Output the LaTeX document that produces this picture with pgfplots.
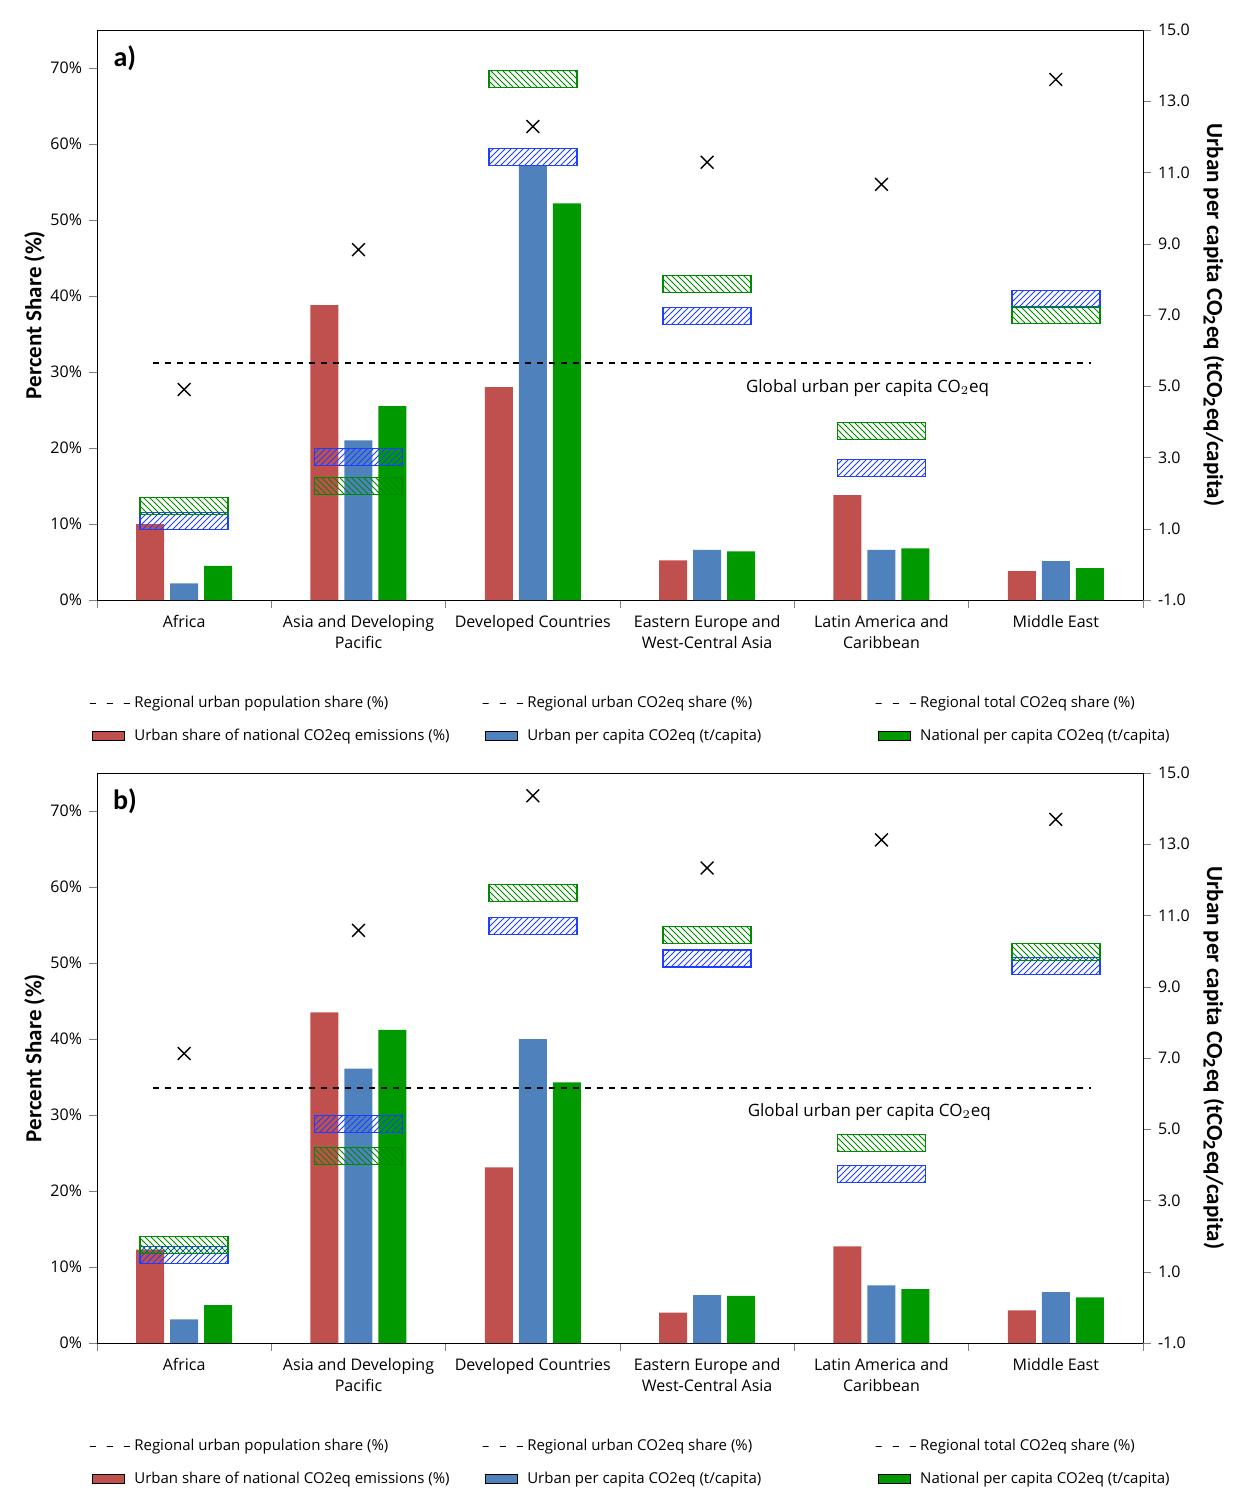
\documentclass[border=0pt]{standalone}
\usepackage{pgfplots}
\pgfplotsset{compat=1.18}
\usetikzlibrary{patterns}
\usepackage{fontspec}
\setmainfont{Open Sans}
\newfontfamily\lblfont{Carlito}
\definecolor{cred}{HTML}{C0504D}
\definecolor{cblue}{HTML}{4F81BD}
\definecolor{cgreen}{HTML}{009A00}
\definecolor{hblue}{HTML}{1F3FFF}
\definecolor{hgreen}{HTML}{008A00}
\pgfdeclareplotmark{hboxb}{\pgfsetstrokecolor{hblue}\pgfsetlinewidth{0.8pt}\pgfsetfillpattern{north east lines}{hblue}\pgfpathrectangle{\pgfpoint{-22pt}{-4.25pt}}{\pgfpoint{44pt}{8.5pt}}\pgfusepathqfillstroke}
\pgfdeclareplotmark{hboxg}{\pgfsetstrokecolor{hgreen}\pgfsetlinewidth{0.8pt}\pgfsetfillpattern{north west lines}{hgreen}\pgfpathrectangle{\pgfpoint{-22pt}{-4.25pt}}{\pgfpoint{44pt}{8.5pt}}\pgfusepathqfillstroke}
\pgfplotsset{
 base/.style={scale only axis, width=523pt, height=285pt, xmin=-0.5, xmax=5.5,
   /pgf/number format/assume math mode=true, tick label style={font=\fontsize{8}{9}\selectfont}},
 leftax/.style={base, ymin=0, ymax=75, ytick={0,10,...,70},
   yticklabel={\pgfmathprintnumber{\tick}\%}, ytick pos=left, tick align=outside,
   xtick={0,...,5}, xticklabels={Africa,Asia and Developing\\Pacific,Developed Countries,Eastern Europe and\\West-Central Asia,Latin America and\\Caribbean,Middle East},
   xticklabel style={align=center, font=\fontsize{8}{10.5}\selectfont},
   major x tick style={draw=none}, minor xtick={-0.5,0.5,...,5.5}, xtick pos=bottom,
   minor tick length=4pt, major tick length=4pt,
   ylabel={\lblfont\bfseries\fontsize{11.5}{12}\selectfont Percent Share (\%)}, ylabel style={yshift=-4pt},
   legend style={at={(rel axis cs:0,0)}, anchor=north west, xshift=-7pt, yshift=-44pt, draw=none, fill=none,
     legend columns=3, font=\fontsize{7.5}{9}\selectfont, row sep=5pt, legend cell align=left},
   },
 rightax/.style={base, ymin=-1, ymax=15, ytick={-1,1,...,15}, axis y line*=right, axis x line=none,
   yticklabel style={/pgf/number format/.cd, fixed, fixed zerofill, precision=1}, tick align=outside, major tick length=4pt,
   ylabel={\lblfont\bfseries\fontsize{11.5}{12}\selectfont Urban per capita CO$_\mathbf{2}$eq (tCO$_\mathbf{2}$eq/capita)},
   ylabel style={rotate=180}},
 barr/.style={ybar, bar width=14pt, bar shift=-17pt, fill=cred, draw=none},
 barb/.style={ybar, bar width=14pt, bar shift=0pt, fill=cblue, draw=none},
 barg/.style={ybar, bar width=14pt, bar shift=17pt, fill=cgreen, draw=none},
 crs/.style={only marks, mark=x, mark size=4.5pt, black, mark options={line width=0.7pt}},
 rectimg/.style={legend image code/.code={\fill[##1] (0pt,-2.25pt) rectangle (16pt,2.25pt);}},
}
\newcommand\legs{%
 \addlegendimage{rectimg, fill=cred}\addlegendentry{\makebox[172pt][l]{Regional urban population share (\%)}}
 \addlegendimage{rectimg, fill=cblue}\addlegendentry{\makebox[172pt][l]{Regional urban CO2eq share (\%)}}
 \addlegendimage{rectimg, fill=cgreen}\addlegendentry{Regional total CO2eq share (\%)}
 \addlegendimage{legend image code/.code={\draw[black, line width=0.7pt] (5pt,-2pt)--(9pt,2pt) (5pt,2pt)--(9pt,-2pt);}}\addlegendentry{\makebox[172pt][l]{Urban share of national CO2eq emissions (\%)}}
 \addlegendimage{legend image code/.code={\draw[hblue, pattern=north west lines, pattern color=hblue] (0pt,-2.25pt) rectangle (16pt,2.25pt);}}\addlegendentry{\makebox[172pt][l]{Urban per capita CO2eq (t/capita)}}
 \addlegendimage{legend image code/.code={\draw[hgreen, pattern=north east lines, pattern color=hgreen] (0pt,-2.25pt) rectangle (16pt,2.25pt);}}\addlegendentry{National per capita CO2eq (t/capita)}
}
\begin{document}
\begin{tikzpicture}
\useasboundingbox (-48.5pt,-450pt) rectangle (572.5pt,300pt);
% ---- panel a
\begin{axis}[leftax, at={(0,0)}]
\addplot[barr] coordinates {(0,10)(1,38.8)(2,28)(3,5.2)(4,13.8)(5,3.8)};
\addplot[barb] coordinates {(0,2.2)(1,21)(2,57.2)(3,6.6)(4,6.6)(5,5.1)};
\addplot[barg] coordinates {(0,4.5)(1,25.5)(2,52.2)(3,6.4)(4,6.8)(5,4.2)};
\addplot[crs, forget plot] coordinates {(0,27.7)(1,46.1)(2,62.3)(3,57.6)(4,54.7)(5,68.5)};
\node[anchor=center, font=\lblfont\bfseries\fontsize{14}{14}\selectfont] at (axis cs:-0.34,71.3) {a)};
\node[font=\lblfont\bfseries\fontsize{12}{12}\selectfont] at (rel axis cs:0.5,0) [yshift=-37.5pt] {Region};
\legs
\end{axis}
\begin{axis}[rightax, at={(0,0)}]
\addplot[only marks, mark=hboxb] coordinates {(0,1.22)(1,3.01)(2,11.43)(3,6.97)(4,2.71)(5,7.45)};
\addplot[only marks, mark=hboxg] coordinates {(0,1.64)(1,2.2)(2,13.62)(3,7.87)(4,3.74)(5,7.0)};
\addplot[black, dashed, line width=0.7pt] coordinates {(-0.18,5.65)(5.2,5.65)};
\node[font=\fontsize{8.5}{10}\selectfont] at (axis cs:3.92,4.95) {Global urban per capita CO$_2$eq};
\end{axis}
% ---- panel b
\begin{axis}[leftax, at={(0,-371.5pt)}]
\addplot[barr] coordinates {(0,12.3)(1,43.5)(2,23.1)(3,4)(4,12.7)(5,4.3)};
\addplot[barb] coordinates {(0,3.1)(1,36.1)(2,40)(3,6.3)(4,7.6)(5,6.7)};
\addplot[barg] coordinates {(0,5.0)(1,41.2)(2,34.3)(3,6.2)(4,7.1)(5,6.0)};
\addplot[crs, forget plot] coordinates {(0,38.1)(1,54.3)(2,72)(3,62.5)(4,66.2)(5,68.9)};
\node[anchor=center, font=\lblfont\bfseries\fontsize{14}{14}\selectfont] at (axis cs:-0.34,71.3) {b)};
\node[font=\lblfont\bfseries\fontsize{12}{12}\selectfont] at (rel axis cs:0.5,0) [xshift=4pt, yshift=-39.5pt] {Region};
\legs
\end{axis}
\begin{axis}[rightax, at={(0,-371.5pt)}]
\addplot[only marks, mark=hboxb] coordinates {(0,1.47)(1,5.15)(2,10.7)(3,9.8)(4,3.74)(5,9.58)};
\addplot[only marks, mark=hboxg] coordinates {(0,1.75)(1,4.25)(2,11.63)(3,10.45)(4,4.61)(5,9.98)};
\addplot[black, dashed, line width=0.7pt] coordinates {(-0.18,6.16)(5.2,6.16)};
\node[font=\fontsize{8.5}{10}\selectfont] at (axis cs:3.93,5.48) {Global urban per capita CO$_2$eq};
\end{axis}
\end{tikzpicture}
\end{document}
